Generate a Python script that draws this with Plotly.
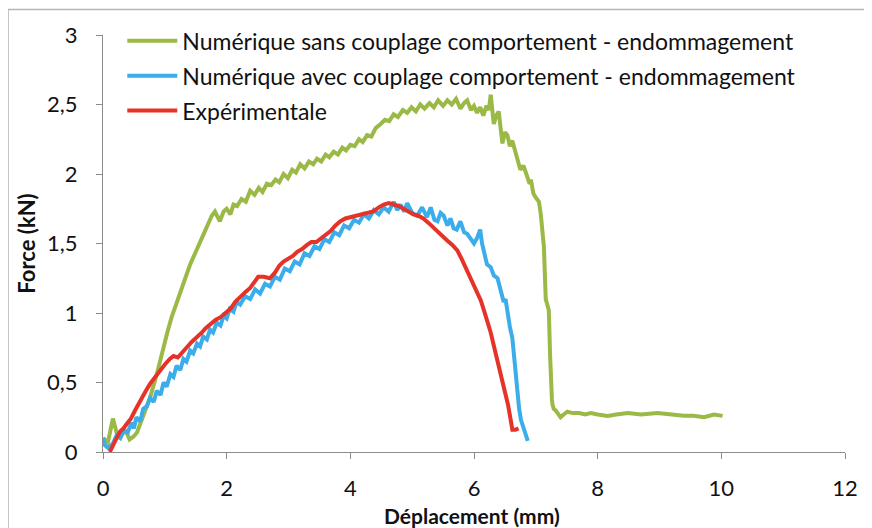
import plotly.graph_objects as go

# Courbes force / déplacement
green_x = [0, 0.08, 0.16, 0.22, 0.3, 0.36, 0.43, 0.49, 0.55, 0.6, 0.68, 0.76, 0.87, 0.97, 1.04, 1.11, 1.18, 1.25,
           1.33, 1.41, 1.49, 1.57, 1.64, 1.7, 1.76, 1.81, 1.86, 1.89, 1.95, 2.0, 2.06, 2.11, 2.17, 2.24, 2.31, 2.38,
           2.45, 2.52, 2.58, 2.65, 2.72, 2.79, 2.85, 2.92, 2.99, 3.06, 3.12, 3.19, 3.26, 3.33, 3.4, 3.46, 3.53, 3.6,
           3.66, 3.73, 3.8, 3.87, 3.93, 4.0, 4.07, 4.14, 4.2, 4.27, 4.34, 4.41, 4.49, 4.56, 4.63, 4.7, 4.77, 4.85,
           4.92, 4.99, 5.06, 5.13, 5.2, 5.28, 5.35, 5.42, 5.5, 5.57, 5.64, 5.71, 5.78, 5.84, 5.89, 5.95, 6.0, 6.05,
           6.1, 6.15, 6.2, 6.24, 6.27, 6.3, 6.32, 6.36, 6.4, 6.43, 6.46, 6.5, 6.54, 6.58, 6.62, 6.65, 6.7, 6.75, 6.8,
           6.86, 6.9, 6.92, 6.96, 7.0, 7.05, 7.08, 7.1, 7.13, 7.16, 7.19, 7.21, 7.23, 7.24, 7.26, 7.27, 7.29, 7.32,
           7.36, 7.4, 7.45, 7.51, 7.6, 7.7, 7.8, 7.89, 8.0, 8.16, 8.3, 8.49, 8.7, 8.97, 9.2, 9.39, 9.55, 9.72, 9.88,
           10.02]
green_y = [0.10, 0.07, 0.24, 0.14, 0.12, 0.16, 0.09, 0.11, 0.14, 0.2, 0.29, 0.39, 0.56, 0.75, 0.86, 0.97, 1.06, 1.16,
           1.26, 1.35, 1.43, 1.52, 1.58, 1.64, 1.70, 1.73, 1.68, 1.66, 1.73, 1.75, 1.71, 1.78, 1.77, 1.82, 1.80, 1.88,
           1.85, 1.90, 1.87, 1.93, 1.92, 1.96, 1.94, 2.00, 1.97, 2.03, 2.01, 2.07, 2.04, 2.09, 2.07, 2.11, 2.09, 2.14,
           2.12, 2.16, 2.14, 2.19, 2.17, 2.21, 2.20, 2.25, 2.23, 2.28, 2.27, 2.33, 2.36, 2.39, 2.38, 2.43, 2.41, 2.46,
           2.44, 2.48, 2.45, 2.50, 2.47, 2.51, 2.48, 2.53, 2.49, 2.53, 2.50, 2.54, 2.47, 2.51, 2.53, 2.46, 2.49, 2.44,
           2.48, 2.42, 2.49, 2.46, 2.57, 2.45, 2.36, 2.42, 2.45, 2.33, 2.22, 2.30, 2.28, 2.20, 2.24, 2.19, 2.10, 2.03,
           2.06, 1.97, 1.93, 1.96, 1.86, 1.83, 1.80, 1.71, 1.60, 1.48, 1.10, 1.06, 1.02, 0.70, 0.51, 0.38, 0.34, 0.31,
           0.30, 0.27, 0.25, 0.27, 0.29, 0.28, 0.28, 0.27, 0.28, 0.27, 0.26, 0.27, 0.28, 0.27, 0.28, 0.27, 0.26, 0.26,
           0.25, 0.27, 0.26]

blue_x = [0, 0.03, 0.08, 0.16, 0.22, 0.28, 0.33, 0.4, 0.46, 0.5, 0.54, 0.6, 0.65, 0.71, 0.76, 0.82, 0.87, 0.93, 0.98,
          1.03, 1.09, 1.14, 1.19, 1.25, 1.3, 1.35, 1.41, 1.46, 1.52, 1.57, 1.62, 1.68, 1.73, 1.78, 1.84, 1.9, 1.95,
          2.0, 2.05, 2.11, 2.16, 2.22, 2.3, 2.38, 2.46, 2.54, 2.62, 2.7, 2.78, 2.86, 2.94, 3.02, 3.1, 3.18, 3.26, 3.34,
          3.42, 3.5, 3.58, 3.66, 3.74, 3.82, 3.9, 3.98, 4.06, 4.14, 4.22, 4.3, 4.38, 4.46, 4.54, 4.62, 4.7, 4.76, 4.81,
          4.87, 4.92, 5.0, 5.08, 5.16, 5.24, 5.3, 5.36, 5.41, 5.46, 5.51, 5.57, 5.62, 5.67, 5.72, 5.78, 5.84, 5.89,
          5.95, 6.0, 6.05, 6.1, 6.13, 6.16, 6.21, 6.27, 6.32, 6.38, 6.43, 6.48, 6.51, 6.54, 6.58, 6.62, 6.65, 6.68,
          6.7, 6.73, 6.76, 6.8, 6.84, 6.87]
blue_y = [0.10, 0.05, 0.03, 0.06, 0.12, 0.10, 0.15, 0.14, 0.21, 0.17, 0.25, 0.22, 0.31, 0.33, 0.39, 0.36, 0.44, 0.41,
          0.50, 0.47, 0.56, 0.54, 0.62, 0.59, 0.67, 0.65, 0.73, 0.71, 0.78, 0.76, 0.83, 0.81, 0.88, 0.86, 0.93, 0.91,
          0.98, 0.96, 1.03, 1.01, 1.08, 1.06, 1.12, 1.10, 1.17, 1.14, 1.21, 1.19, 1.26, 1.24, 1.32, 1.30, 1.37, 1.35,
          1.43, 1.41, 1.48, 1.46, 1.53, 1.51, 1.58, 1.56, 1.63, 1.61, 1.67, 1.65, 1.71, 1.68, 1.74, 1.71, 1.76, 1.73,
          1.80, 1.74, 1.78, 1.73, 1.79, 1.72, 1.70, 1.76, 1.69, 1.76, 1.67, 1.66, 1.72, 1.70, 1.63, 1.68, 1.61, 1.60,
          1.66, 1.58, 1.57, 1.53, 1.50, 1.54, 1.60, 1.50, 1.43, 1.35, 1.33, 1.27, 1.25, 1.17, 1.08, 1.10, 0.99, 0.90,
          0.82, 0.68, 0.55, 0.42, 0.31, 0.23, 0.18, 0.13, 0.08]

red_x = [0.11, 0.16, 0.22, 0.28, 0.33, 0.38, 0.45, 0.52, 0.6, 0.68, 0.76, 0.84, 0.92, 1.0, 1.08, 1.14, 1.21, 1.28,
         1.35, 1.43, 1.51, 1.6, 1.66, 1.73, 1.82, 1.9, 2.0, 2.06, 2.14, 2.22, 2.3, 2.38, 2.45, 2.51, 2.6, 2.7, 2.78,
         2.85, 2.92, 3.0, 3.07, 3.14, 3.22, 3.3, 3.37, 3.45, 3.51, 3.6, 3.68, 3.76, 3.84, 3.92, 4.0, 4.1, 4.2, 4.28,
         4.37, 4.46, 4.54, 4.62, 4.7, 4.78, 4.86, 4.94, 5.02, 5.1, 5.18, 5.26, 5.35, 5.45, 5.57, 5.65, 5.73, 5.8,
         5.89, 5.97, 6.05, 6.11, 6.16, 6.22, 6.27, 6.35, 6.43, 6.5, 6.55, 6.59, 6.62, 6.67, 6.72]
red_y = [0.0, 0.05, 0.10, 0.15, 0.17, 0.20, 0.24, 0.30, 0.37, 0.43, 0.49, 0.54, 0.59, 0.63, 0.67, 0.69, 0.68, 0.72,
         0.75, 0.79, 0.82, 0.86, 0.89, 0.92, 0.95, 0.97, 1.01, 1.03, 1.08, 1.12, 1.15, 1.18, 1.23, 1.26, 1.26, 1.25,
         1.29, 1.34, 1.37, 1.39, 1.41, 1.44, 1.46, 1.49, 1.51, 1.51, 1.53, 1.56, 1.59, 1.63, 1.66, 1.68, 1.69, 1.70,
         1.71, 1.72, 1.73, 1.76, 1.78, 1.79, 1.78, 1.77, 1.75, 1.73, 1.71, 1.70, 1.68, 1.65, 1.61, 1.57, 1.52, 1.49,
         1.45, 1.39, 1.30, 1.23, 1.15, 1.09, 1.02, 0.93, 0.86, 0.71, 0.56, 0.44, 0.34, 0.24, 0.16, 0.16, 0.17]

series = [
    ("Numérique sans couplage comportement - endommagement", green_x, green_y, "#9bb947"),
    ("Numérique avec couplage comportement - endommagement", blue_x, blue_y, "#3badea"),
    ("Expérimentale", red_x, red_y, "#e5332a"),
]

fig = go.Figure()
for name, xs, ys, col in series:
    fig.add_trace(go.Scatter(x=xs, y=ys, mode="lines", name=name, legendgroup=name,
                             line=dict(color=col, width=4)))

font_name = "Lato"

fig.update_layout(
    width=872, height=528,
    margin=dict(l=95, r=35, t=26, b=84),
    plot_bgcolor="white", paper_bgcolor="white",
    separators=", ",
    font=dict(family=font_name, size=22, color="#111111"),
    showlegend=True,
    legend=dict(x=0.026, y=1.035, xanchor="left", yanchor="top", bgcolor="rgba(255,255,255,0)",
                font=dict(size=23, color="#111111"), tracegroupgap=2, itemwidth=50),
    shapes=[dict(type="rect", xref="paper", yref="paper", x0=-0.128, x1=1.032, y0=-0.25, y1=1.061,
                 line=dict(color="#b5b5b5", width=1.5), layer="below")],
    # titre de l'axe x placé à la main pour qu'il ne touche pas le bord
    annotations=[dict(text="<b>Déplacement (mm)</b>", xref="paper", yref="paper", x=0.497, y=-0.153,
                      xanchor="center", yanchor="middle", showarrow=False, font=dict(size=21))],
)

fig.update_xaxes(range=[0, 12], tickvals=[0, 2, 4, 6, 8, 10, 12], showgrid=False, zeroline=False,
                 showline=True, linecolor="#8c8c8c", linewidth=1.2, ticks="outside", ticklen=6,
                 tickcolor="#8c8c8c", tickfont=dict(size=22), ticklabelstandoff=10)
fig.update_yaxes(range=[0, 3], tickvals=[0, 0.5, 1, 1.5, 2, 2.5, 3], showgrid=False, zeroline=False,
                 showline=True, linecolor="#8c8c8c", linewidth=1.2, ticks="outside", ticklen=6,
                 tickcolor="#8c8c8c", tickfont=dict(size=22), ticklabelstandoff=14,
                 title=dict(text="<b>Force (kN)</b>", font=dict(size=22), standoff=5))

fig.write_html("out.html")
